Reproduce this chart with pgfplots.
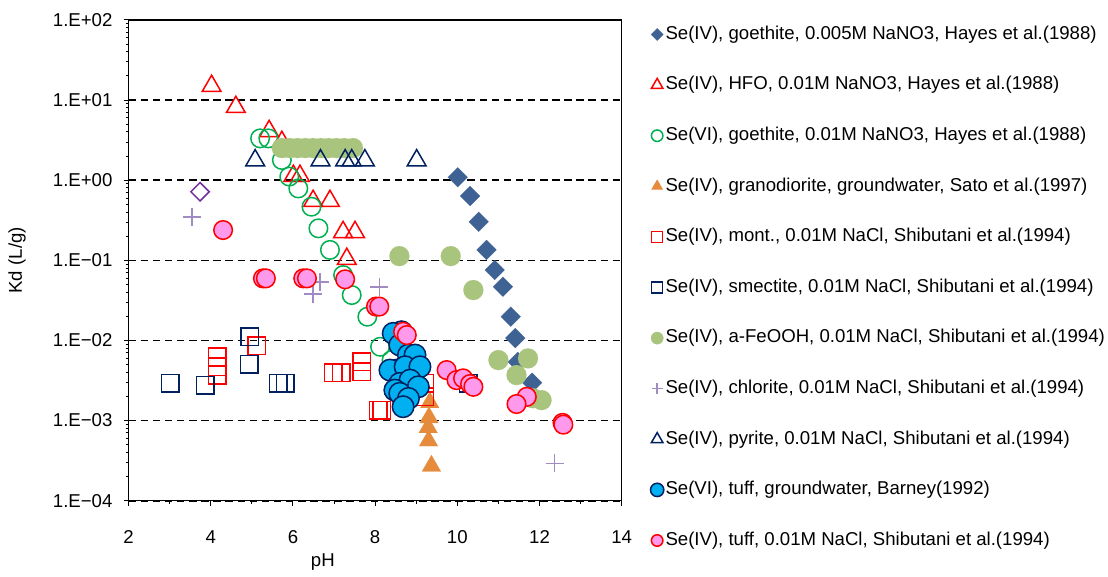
\documentclass[border=0pt]{standalone}
\usepackage{pgfplots}
\pgfplotsset{compat=1.18}
\usepackage{fontspec}
\setmainfont{Liberation Sans}
\definecolor{cGoe}{RGB}{63,98,148}
\definecolor{cRed}{RGB}{255,0,0}
\definecolor{cGreen}{RGB}{0,176,80}
\definecolor{cOrange}{RGB}{230,138,60}
\definecolor{cNavy}{RGB}{0,32,96}
\definecolor{cFe}{RGB}{168,196,125}
\definecolor{cChl}{RGB}{160,140,195}
\definecolor{cBlue}{RGB}{0,176,240}
\definecolor{cPink}{RGB}{255,153,235}
\definecolor{cPurple}{RGB}{112,48,160}
\begin{document}
\begin{tikzpicture}
\path[use as bounding box] (-128.6bp,-76.3bp) rectangle (979.4bp,500.7bp);
\begin{axis}[
  at={(0,0)}, anchor=south west,
  scale only axis, width=493.1bp, height=480.7bp,
  xmin=2, xmax=14, ymode=log, ymin=1e-4, ymax=1e2,
  xtick={2,4,6,8,10,12,14}, xticklabels={2,4,6,8,10,12,14},
  minor xtick={3,5,7,9,11,13},
  ytick={1e-4,1e-3,1e-2,1e-1,1,10,100},
  yticklabels={1.E−04,1.E−03,1.E−02,1.E−01,1.E+00,1.E+01,1.E+02},
  tick pos=left, tick align=outside,
  major tick length=5bp, minor tick length=3bp,
  every tick/.style={black, line width=1bp},
  axis line style={black, line width=1.3bp},
  ymajorgrids,
  major grid style={black, line width=1.6bp, dash pattern=on 7.5bp off 4.6bp},
  font=\fontsize{18.6bp}{22bp}\selectfont,
  xticklabel style={anchor=center, yshift=-31bp, inner sep=0pt},
  yticklabel style={anchor=east, xshift=-11bp, inner sep=0pt},
  xlabel={pH}, ylabel={Kd (L/g)},
  xlabel style={at={(rel axis cs:0.394,0)}, anchor=center, yshift=-61.3bp, inner sep=0pt},
  every axis y label/.style={at={(rel axis cs:0,0.5)}, xshift=-111.6bp, rotate=90, anchor=center, inner sep=0pt},
  legend cell align=left,
  legend image code/.code={\draw[mark repeat=2,mark phase=2,#1] plot coordinates {(-2bp,0bp)(0bp,0bp)(2bp,0bp)};},
  legend image post style={/tikz/every mark/.append style={scale=0.62}},
  legend style={draw=none, fill=none, at={(rel axis cs:1,1)}, anchor=north west,
    xshift=28.6bp, yshift=-5.6bp, row sep=33.2bp, column sep=1.7bp, inner sep=0pt,
    nodes={inner sep=0pt, text height=13.5bp, text depth=3.9bp},
    font=\fontsize{18.6bp}{22bp}\selectfont},
]
% 1 Se(IV) goethite Hayes
\addplot[only marks, mark=square*, mark size=7bp, mark options={rotate=45}, draw=cGoe, fill=cGoe, line width=0.1bp] table {
10.01 1.09
10.31 0.635
10.52 0.303
10.71 0.135
10.91 0.0757
11.11 0.0468
11.30 0.0198
11.41 0.0107
11.47 0.0054
11.82 0.00297
};
\addlegendentry{Se(IV), goethite, 0.005M NaNO3, Hayes et al.(1988)}
% 2 HFO
\addplot[only marks, mark=triangle, mark size=10.8bp, draw=cRed, line width=1.5bp] table {
4.02 15.0
4.61 8.2
5.42 4.1
5.73 3.0
6.01 1.13
6.17 1.13
6.49 0.55
6.90 0.55
7.22 0.225
7.51 0.225
7.31 0.104
};
\addlegendentry{Se(IV), HFO, 0.01M NaNO3, Hayes et al.(1988)}
% 3 Se(VI) goethite
\addplot[only marks, mark=o, mark size=9.25bp, draw=cGreen, line width=1.5bp] table {
5.20 3.33
5.40 3.33
5.73 1.79
5.91 1.11
6.13 0.79
6.45 0.467
6.62 0.251
6.90 0.135
7.22 0.0655
7.43 0.0369
7.81 0.0198
8.12 0.00834
8.40 0.00569
};
\addlegendentry{Se(VI), goethite, 0.01M NaNO3, Hayes et al.(1988)}
% 4 granodiorite
\addplot[only marks, mark=triangle*, mark size=10.8bp, draw=cOrange, fill=cOrange, line width=0.1bp] table {
9.33 0.00168
9.31 0.00109
9.29 0.00082
9.30 0.00056
9.37 0.000272
};
\addlegendentry{Se(IV), granodiorite, groundwater, Sato et al.(1997)}
% 5 mont.
\addplot[only marks, mark=square, mark size=8.75bp, draw=cRed, line width=1.5bp] table {
4.16 0.00626
4.16 0.0047
4.16 0.0037
5.12 0.0086
6.98 0.00395
7.18 0.00395
7.67 0.00542
7.67 0.00407
8.08 0.00135
8.16 0.00135
9.21 0.00291
9.21 0.00198
};
\addlegendentry{Se(IV), mont., 0.01M NaCl, Shibutani et al.(1994)}
% 6 smectite
\addplot[only marks, mark=square, mark size=8.75bp, draw=cNavy, line width=1.5bp] table {
3.01 0.00291
3.86 0.00277
4.95 0.0111
4.94 0.00507
5.64 0.00291
5.81 0.00291
10.27 0.00291
};
\addlegendentry{Se(IV), smectite, 0.01M NaCl, Shibutani et al.(1994)}
% 7 a-FeOOH
\addplot[only marks, mark=*, mark size=10bp, draw=cFe, fill=cFe, line width=0.1bp] table {
5.73 2.52
5.92 2.52
6.11 2.52
6.30 2.52
6.49 2.52
6.68 2.52
6.87 2.52
7.06 2.52
7.25 2.52
7.46 2.52
8.59 0.113
9.84 0.113
10.39 0.0426
11.00 0.00569
11.44 0.0037
11.72 0.00597
11.84 0.0019
12.05 0.0018
};
\addlegendentry{Se(IV), a-FeOOH, 0.01M NaCl, Shibutani et al.(1994)}
% 8 chlorite
\addplot[only marks, mark=+, mark size=9bp, draw=cChl, line width=1.5bp] table {
3.54 0.35
6.49 0.038
6.66 0.054
8.10 0.0468
12.37 0.000292
};
\addlegendentry{Se(IV), chlorite, 0.01M NaCl, Shibutani et al.(1994)}
% 9 pyrite
\addplot[only marks, mark=triangle, mark size=10.8bp, draw=cNavy, line width=1.5bp] table {
5.08 1.77
6.67 1.77
7.27 1.77
7.43 1.77
7.75 1.77
9.01 1.77
};
\addlegendentry{Se(IV), pyrite, 0.01M NaCl, Shibutani et al.(1994)}
% 10 Barney tuff
\addplot[only marks, mark=*, mark size=10.75bp, draw=cNavy, fill=cBlue, line width=1.5bp] table {
8.64 0.01285
8.44 0.01227
8.60 0.00877
8.81 0.00658
8.97 0.00658
8.52 0.00427
8.36 0.00427
8.73 0.0047
9.09 0.0047
8.60 0.00291
8.85 0.0032
9.05 0.00264
8.48 0.0024
8.60 0.00219
8.81 0.00189
8.68 0.00149
};
\addlegendentry{Se(VI), tuff, groundwater, Barney(1992)}
% 11 tuff Shibutani
\addplot[only marks, mark=*, mark size=9.3bp, draw=cRed, fill=cPink, line width=1.5bp] table {
4.30 0.239
5.27 0.0596
5.34 0.0596
6.25 0.0596
6.34 0.0596
7.27 0.058
8.02 0.0265
8.10 0.0265
8.68 0.01285
8.77 0.01167
9.74 0.00427
9.98 0.0032
10.14 0.00337
10.31 0.00286
10.39 0.00264
11.69 0.00198
11.44 0.00161
12.56 0.000937
12.58 0.00089
};
\addlegendentry{Se(IV), tuff, 0.01M NaCl, Shibutani et al.(1994)}
% extra unlabelled point
\addplot[only marks, forget plot, mark=square, mark size=6.5bp, mark options={rotate=45}, draw=cPurple, line width=1.5bp] table {
3.74 0.718
};
\end{axis}
\end{tikzpicture}
\end{document}
